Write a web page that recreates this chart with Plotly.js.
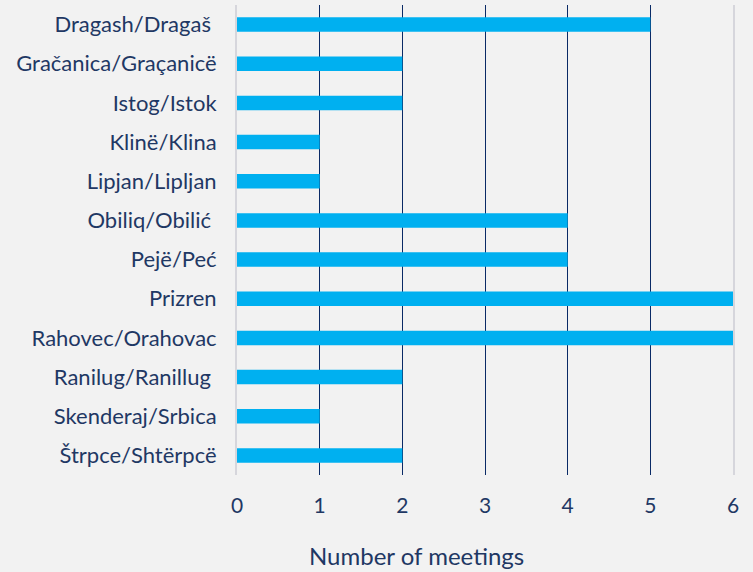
<!DOCTYPE html>
<html><head><meta charset="utf-8">
<script src="https://cdn.plot.ly/plotly-3.0.1.min.js"></script>
<style>body{margin:0;background:#F2F2F2}</style>
</head><body><div id="chart" style="width:753px;height:572px"></div>
<script>
const municipalities = ["Dragash/Dragaš ","Gračanica/Graçanicë","Istog/Istok","Klinë/Klina","Lipjan/Lipljan","Obiliq/Obilić ","Pejë/Peć","Prizren","Rahovec/Orahovac","Ranilug/Ranillug ","Skenderaj/Srbica","Štrpce/Shtërpcë"];
const meetings = [5,2,2,1,1,4,4,6,6,2,1,2];
const xTicks = [0,1,2,3,4,5,6];
const axisTitle = "Number of meetings";
const navy = "#1F3864";
Plotly.newPlot("chart", [{
  type: "bar", orientation: "h",
  x: meetings, y: municipalities,
  marker: {color: "#00B0F0"},
  hoverinfo: "x+y"
}], {
  width: 753, height: 572,
  paper_bgcolor: "#F2F2F2", plot_bgcolor: "#F2F2F2",
  margin: {l: 237, r: 20, t: 5, b: 97},
  bargap: 0.63,
  font: {family: "Lato, Carlito, sans-serif", color: navy, size: 21},
  xaxis: {
    range: [0, 6], tickvals: xTicks, showgrid: true, gridcolor: "#0A2A66", gridwidth: 1.3,
    zeroline: false, showline: false, ticks: "", ticklabelstandoff: 16,
    tickfont: {size: 21, color: navy}
  },
  yaxis: {
    autorange: "reversed", showline: true, mirror: true, linecolor: "#D6D6DC", linewidth: 2,
    ticks: "", ticklabelstandoff: 14, tickfont: {size: 22, color: navy}
  },
  annotations: [{
    text: axisTitle, xref: "paper", yref: "paper", x: 0.361, y: 0,
    yshift: -80, xanchor: "center", yanchor: "middle", showarrow: false,
    font: {size: 24, color: navy}
  }],
  showlegend: false
}, {displayModeBar: false});
</script></body></html>
